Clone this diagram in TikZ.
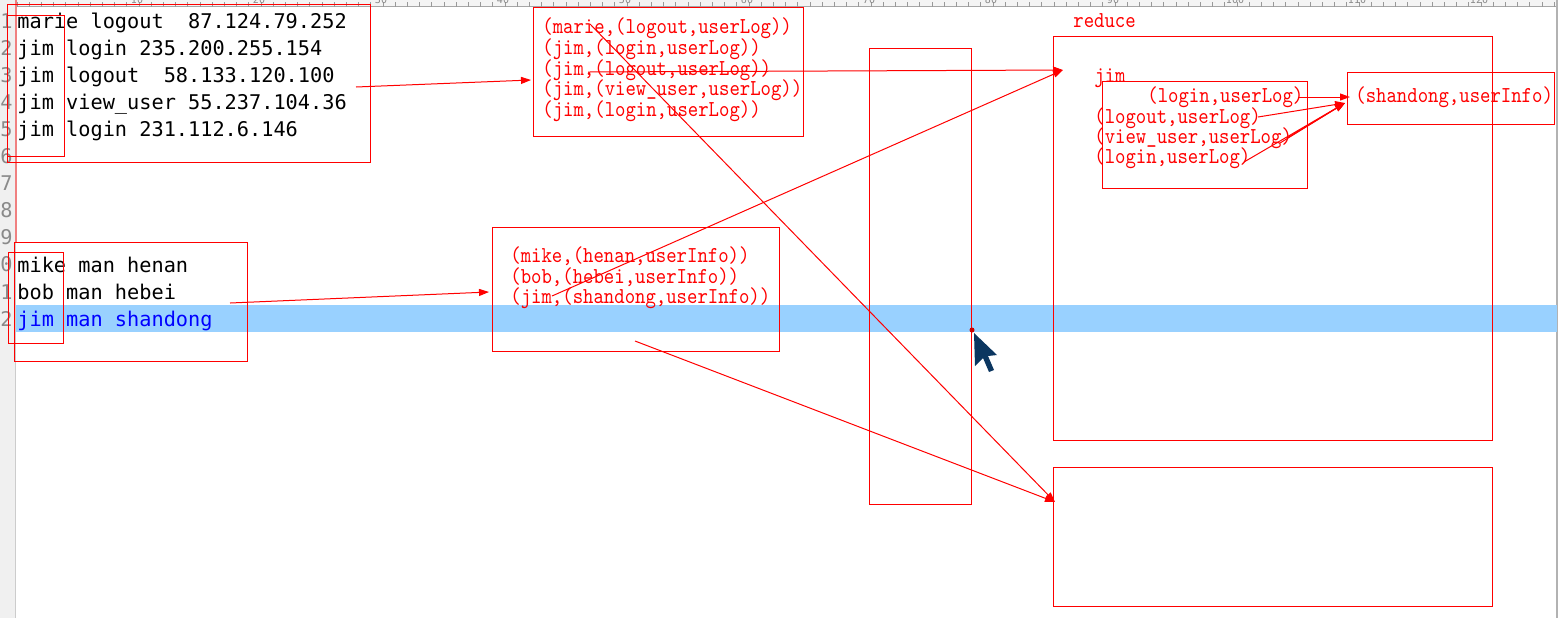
\documentclass[tikz,border=0pt]{standalone}
\usepackage{fontspec}
\usepackage{graphicx}
\usetikzlibrary{arrows.meta,fit}
\newfontfamily\codefont{DejaVu Sans Mono}
\definecolor{gutterbg}{HTML}{F0F0F0}
\definecolor{rulerbg}{HTML}{F4F4F4}
\definecolor{linenum}{HTML}{8A8A8A}
\definecolor{hlband}{HTML}{99D1FF}
\definecolor{hltext}{HTML}{0000FF}
\definecolor{cursorc}{HTML}{0B3660}
\definecolor{boxred}{HTML}{FF0000}
\definecolor{pinkline}{HTML}{F08080}
\newcommand{\rsb}[1]{\scalebox{1}[1.15]{#1}}
\begin{document}
\begin{tikzpicture}[x=0.5pt,y=-0.5pt,
  rbox/.style={draw=boxred, line width=0.5pt, inner sep=0pt},
  codetxt/.style={anchor=base west, inner sep=0pt, font=\codefont\fontsize{10.13}{12}\selectfont},
  lnum/.style={anchor=base east, inner sep=0pt, text=linenum, font=\codefont\fontsize{10.13}{12}\selectfont},
  rulnum/.style={anchor=base, inner sep=0pt, text=linenum, font=\codefont\fontsize{5}{6}\selectfont},
  redtxt/.style={anchor=base west, inner sep=0pt, text=red, font=\ttfamily\fontsize{9.9}{11}\selectfont},
  conn/.style={draw=red, line width=0.5pt, -{Triangle[length=5pt,width=3.5pt]}},
]
\useasboundingbox (0,0) rectangle (1564,618);
\clip (0,0) rectangle (1564,618);
% backgrounds
\fill[white] (0,0) rectangle (1564,618);
\fill[gutterbg] (0,0) rectangle (15,618);
\draw[gray!40, line width=0.5pt] (15,242) -- (15,618);
\fill[rulerbg] (15,0) rectangle (1557,6.5);
\draw[gray!70, line width=0.5pt] (15,6.5) -- (1557,6.5);
\foreach \c in {0,...,126} {
  \draw[gray!80, line width=0.4pt] ({17+12.2*\c},2) -- ({17+12.2*\c},6.5);
}
\foreach \k in {1,...,12} {
  \node[rulnum] (rn\k) at ({17+122*\k-2},3) {\the\numexpr\k*10\relax};
}
\draw[gray!60, line width=0.6pt] (1557,0) -- (1557,618);
\draw[pinkline, line width=0.6pt] (16,0) -- (16,242);
% highlighted line
\fill[hlband] (16,305) rectangle (1557,332);
% line numbers
\foreach \n in {1,...,12} {
  \node[lnum] (ln\n) at (13,{28+27.1*(\n-1)}) {\n};
}
% source text
\node[codetxt] (s1) at (17,28) {marie logout~~87.124.79.252};
\node[codetxt] (s2) at (17,55) {jim login 235.200.255.154};
\node[codetxt] (s3) at (17,82) {jim logout~~58.133.120.100};
\node[codetxt] (s4) at (17,109) {jim view\_user 55.237.104.36};
\node[codetxt] (s5) at (17,136) {jim login 231.112.6.146};
\node[codetxt] (t1) at (17,272) {mike man henan};
\node[codetxt] (t2) at (17,299) {bob man hebei};
\node[codetxt, text=hltext] (t3) at (17,326) {jim man shandong};
% source boxes
\node[rbox, fit={(7,4) (370,162)}] (boxA) {};
\node[rbox, fit={(7,15) (64,156)}] (boxAk) {};
\node[rbox, fit={(14,242) (247,361)}] (boxT) {};
\node[rbox, fit={(8,252) (63,343)}] (boxTk) {};
% map output 1
\node[rbox, fit={(533,7) (803,136)}] (boxB) {};
\node[redtxt] (b1) at (542,33) {\rsb{(marie,(logout,userLog))}};
\node[redtxt] (b2) at (542,54) {\rsb{(jim,(login,userLog))}};
\node[redtxt] (b3) at (542,75) {\rsb{(jim,(logout,userLog))}};
\node[redtxt] (b4) at (542,95) {\rsb{(jim,(view\_user,userLog))}};
\node[redtxt] (b5) at (542,116) {\rsb{(jim,(login,userLog))}};
% map output 2
\node[rbox, fit={(492,227) (779,351)}] (boxC) {};
\node[redtxt] (c1) at (510,262) {\rsb{(mike,(henan,userInfo))}};
\node[redtxt] (c2) at (510,283) {\rsb{(bob,(hebei,userInfo))}};
\node[redtxt] (c3) at (510,303) {\rsb{(jim,(shandong,userInfo))}};
% shuffle column
\node[rbox, fit={(869,48) (971,504)}] (boxD) {};
% reduce
\node[redtxt] (red) at (1073,27) {\rsb{reduce}};
\node[rbox, fit={(1053,36) (1492,440)}] (boxE) {};
\node[redtxt] (jim) at (1094,82) {\rsb{jim}};
\node[rbox, fit={(1102,81) (1307,188)}] (boxF) {};
\node[redtxt] (f1) at (1147,102) {\rsb{(login,userLog)}};
\node[redtxt] (f2) at (1094,123) {\rsb{(logout,userLog)}};
\node[redtxt] (f3) at (1094,143) {\rsb{(view\_user,userLog)}};
\node[redtxt] (f4) at (1094,163) {\rsb{(login,userLog)}};
\node[rbox, fit={(1347,72) (1554,124)}] (boxG) {};
\node[redtxt] (g1) at (1355,102) {\rsb{(shandong,userInfo)}};
\node[rbox, fit={(1053,467) (1492,606)}] (boxH) {};
% connector end points
\coordinate (a1s) at (356,87);   \coordinate (a1e) at (531,80);
\coordinate (a2s) at (230,303);  \coordinate (a2e) at (489,292);
\coordinate (a3s) at (588,72);   \coordinate (jimin) at (1063,70);
\coordinate (a4s) at (552,296);
\coordinate (a5s) at (590,24);   \coordinate (hin) at (1055,502);
\coordinate (a6s) at (635,341);
\coordinate (g1s) at (1298,97);  \coordinate (g1e) at (1350,97);
\coordinate (g2s) at (1258,117); \coordinate (gin) at (1345,103);
\coordinate (g3s) at (1280,143); \coordinate (g3t) at (1287,138);
\coordinate (g4s) at (1244,162);
% connectors
\draw[conn] (a1s) -- (a1e);
\draw[conn] (a2s) -- (a2e);
\draw[conn] (a3s) -- (jimin);
\draw[conn] (a4s) -- (jimin);
\draw[conn] (a5s) -- (hin);
\draw[conn] (a6s) -- (hin);
\draw[conn] (g1s) -- (g1e);
\draw[conn] (g2s) -- (gin);
\draw[conn] (g3s) -- (gin);
\draw[conn] (g3t) -- (gin);
\draw[conn] (g4s) -- (gin);
% cursor and dot
\fill[cursorc] (974,333) -- (997,355) -- (988,356) -- (994,370) -- (989,372) -- (983,358) -- (975,366) -- cycle;
\fill[red!80!black] (972,330) circle (2.5);
\end{tikzpicture}
\end{document}
